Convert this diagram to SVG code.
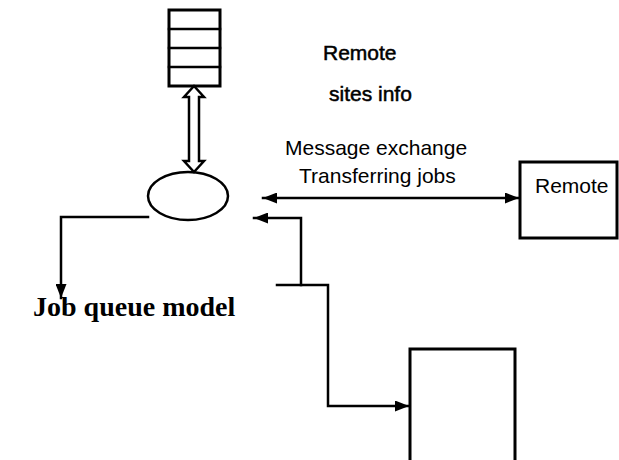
<svg xmlns="http://www.w3.org/2000/svg" width="619" height="460" viewBox="0 0 619 460">
<defs>
<marker id="ah" viewBox="0 0 14 11" refX="14" refY="5.5" markerWidth="14" markerHeight="11" markerUnits="userSpaceOnUse" orient="auto-start-reverse">
<path d="M0,0 L14,5.5 L0,11 Z" fill="#000"/>
</marker>
</defs>
<style>
.ln{fill:none;stroke:#000;stroke-width:2.5;stroke-linecap:square}
.box{fill:#fff;stroke:#000;stroke-width:3}
.sans{font-family:"Liberation Sans",Arial,sans-serif;fill:#000}
.bold{stroke:#000;stroke-width:0.5}
.serif{font-family:"Liberation Serif","Times New Roman",serif;fill:#000;font-weight:bold}
</style>
<rect width="619" height="460" fill="#fff"/>
<g id="queue">
<rect class="box" x="169" y="10" width="51" height="76"/>
<path class="ln" d="M169,29H220M169,48H220M169,67H220"/>
</g>
<g id="scheduler">
<ellipse cx="188" cy="196" rx="40" ry="24" fill="#fff" stroke="#000" stroke-width="2.5"/>
</g>
<g id="remote">
<rect class="box" x="520" y="162" width="97" height="76"/>
<text class="sans" x="535" y="193" font-size="21">Remote</text>
</g>
<g id="target">
<path class="box" d="M410,470V349H515V470"/>
</g>
<g id="labels">
<text class="sans bold" x="323" y="60" font-size="21">Remote</text>
<text class="sans bold" x="329" y="101" font-size="21">sites info</text>
<text class="sans" x="285" y="155" font-size="21">Message exchange</text>
<text class="sans" x="299" y="183" font-size="21">Transferring jobs</text>
<text class="serif" x="33" y="316" font-size="28">Job queue model</text>
</g>
<g id="connectors">
<path d="M194,86 L204,97 L199,97 L199,161 L204,161 L194,172 L184,161 L189,161 L189,97 L184,97 Z" fill="#fff" stroke="#000" stroke-width="2.5" stroke-linejoin="miter"/>
<path class="ln" d="M148,217H61V298" marker-end="url(#ah)"/>
<path class="ln" d="M263,198H519" marker-start="url(#ah)" marker-end="url(#ah)"/>
<path class="ln" d="M301,285V218H254" marker-end="url(#ah)"/>
<path class="ln" d="M277,285H328V406H409" marker-end="url(#ah)"/>
</g>
</svg>
